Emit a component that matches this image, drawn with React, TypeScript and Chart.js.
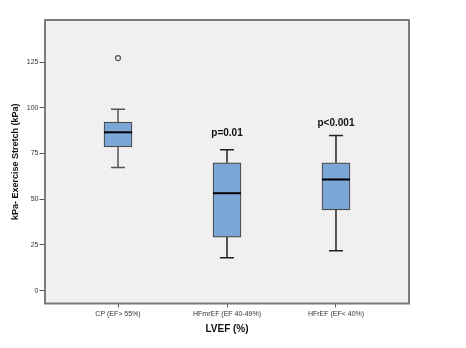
import React, { useEffect, useRef } from "react";
import { Chart, registerables } from "chart.js";

Chart.register(...registerables);

const categories = ["CP (EF> 55%)", "HFmrEF (EF 40-49%)", "HFrEF (EF< 40%)"];
const whiskerMin = [67.4, 18.0, 21.8];
const q1 = [78.6, 29.3, 44.2];
const median = [86.6, 53.3, 60.8];
const q3 = [92.2, 69.9, 69.9];
const whiskerMax = [99.2, 77.0, 84.8];
const outliers = [{ cat: 1, value: 127.2 }];
const pLabels = ["", "p=0.01", "p<0.001"];
const pLabelAt = [0, 86.2, 91.4];
const yTicks = [0, 25, 50, 75, 100, 125];

const boxPlugin = {
  id: "boxExtras",
  beforeDatasetsDraw(chart: any) {
    const { ctx, chartArea } = chart;
    ctx.save();
    ctx.fillStyle = "#F0F0F0";
    ctx.fillRect(chartArea.left, chartArea.top, chartArea.right - chartArea.left, chartArea.bottom - chartArea.top);
    ctx.restore();
  },
  afterDatasetsDraw(chart: any) {
    const { ctx, chartArea } = chart;
    const xs = chart.scales.x;
    const ys = chart.scales.y;
    const meta = chart.getDatasetMeta(0);
    ctx.save();
    categories.forEach((_, i) => {
      const bar = meta.data[i] as any;
      const cx = xs.getPixelForValue(i + 1);
      const half = bar ? bar.width / 2 : 14;
      const cap = 7;
      ctx.strokeStyle = i === 0 ? "#555555" : "#222222";
      ctx.lineWidth = 1.5;
      ctx.beginPath();
      ctx.moveTo(cx, ys.getPixelForValue(q3[i]));
      ctx.lineTo(cx, ys.getPixelForValue(whiskerMax[i]));
      ctx.moveTo(cx, ys.getPixelForValue(q1[i]));
      ctx.lineTo(cx, ys.getPixelForValue(whiskerMin[i]));
      ctx.moveTo(cx - cap, ys.getPixelForValue(whiskerMax[i]));
      ctx.lineTo(cx + cap, ys.getPixelForValue(whiskerMax[i]));
      ctx.moveTo(cx - cap, ys.getPixelForValue(whiskerMin[i]));
      ctx.lineTo(cx + cap, ys.getPixelForValue(whiskerMin[i]));
      ctx.stroke();
      ctx.strokeStyle = "#000000";
      ctx.lineWidth = 2;
      ctx.beginPath();
      const my = ys.getPixelForValue(median[i]);
      ctx.moveTo(cx - half, my);
      ctx.lineTo(cx + half, my);
      ctx.stroke();
      if (pLabels[i]) {
        ctx.fillStyle = "#111111";
        ctx.font = "bold 10px 'Liberation Sans', Arial, sans-serif";
        ctx.textAlign = "center";
        ctx.textBaseline = "middle";
        ctx.fillText(pLabels[i], cx, ys.getPixelForValue(pLabelAt[i]));
      }
    });
    ctx.strokeStyle = "#7A7A7A";
    ctx.lineWidth = 2;
    ctx.strokeRect(chartArea.left, chartArea.top, chartArea.right - chartArea.left, chartArea.bottom - chartArea.top);
    ctx.restore();
  },
};

export default function App() {
  const ref = useRef<HTMLCanvasElement>(null);
  useEffect(() => {
    if (!ref.current) return;
    const chart = new Chart(ref.current, {
      type: "bar",
      data: {
        datasets: [
          {
            type: "bar",
            data: categories.map((_, i) => ({ x: i + 1, y: [q1[i], q3[i]] })) as any,
            backgroundColor: "#7BA7D7",
            borderColor: "#4A4A4A",
            borderWidth: 1.2,
            borderSkipped: false,
            barThickness: 28,
            grouped: false,
          } as any,
          {
            type: "scatter",
            data: outliers.map((o) => ({ x: o.cat, y: o.value })),
            pointStyle: "circle",
            pointRadius: 2.5,
            pointBorderWidth: 1.2,
            pointBorderColor: "#555555",
            pointBackgroundColor: "rgba(0,0,0,0)",
          } as any,
        ],
      },
      options: {
        animation: false,
        responsive: true,
        maintainAspectRatio: false,
        layout: { padding: { left: 0, right: 57, top: 20, bottom: 0 } },
        plugins: { legend: { display: false }, tooltip: { enabled: false } },
        scales: {
          x: {
            type: "linear",
            offset: false,
            min: 0.33,
            max: 3.67,
            afterBuildTicks: (s: any) => {
              s.ticks = categories.map((_, i) => ({ value: i + 1 }));
            },
            afterFit: (s: any) => {
              s.height = 44.5;
            },
            ticks: {
              callback: (v: any) => categories[Math.round(Number(v)) - 1] ?? "",
              font: { size: 7, family: "'Liberation Sans', Arial, sans-serif" },
              color: "#333333",
              padding: 2,
              maxRotation: 0,
              autoSkip: false,
            },
            grid: { offset: false, drawOnChartArea: false, drawTicks: true, tickLength: 4, color: "#555555" },
            border: { display: false },
            title: {
              display: true,
              text: "LVEF (%)",
              font: { size: 10, weight: "bold", family: "'Liberation Sans', Arial, sans-serif" },
              color: "#111111",
              padding: { top: 0, bottom: 13 },
            },
          },
          y: {
            type: "linear",
            min: -7,
            max: 148,
            afterBuildTicks: (s: any) => {
              s.ticks = yTicks.map((v) => ({ value: v }));
            },
            afterFit: (s: any) => {
              s.width = 45;
            },
            ticks: {
              font: { size: 7, family: "'Liberation Sans', Arial, sans-serif" },
              color: "#333333",
              padding: 1,
            },
            grid: { drawOnChartArea: false, drawTicks: true, tickLength: 5.5, color: "#555555" },
            border: { display: false },
            title: {
              display: true,
              text: "kPa- Exercise Stretch (kPa)",
              font: { size: 9, weight: "bold", family: "'Liberation Sans', Arial, sans-serif" },
              color: "#111111",
              padding: { top: 10, bottom: 0 },
            },
          },
        },
      } as any,
      plugins: [boxPlugin],
    });
    return () => chart.destroy();
  }, []);
  return (
    <div style={{ position: "fixed", left: 0, top: 0, width: 466, height: 348, background: "#FFFFFF" }}>
      <canvas ref={ref} />
    </div>
  );
}
